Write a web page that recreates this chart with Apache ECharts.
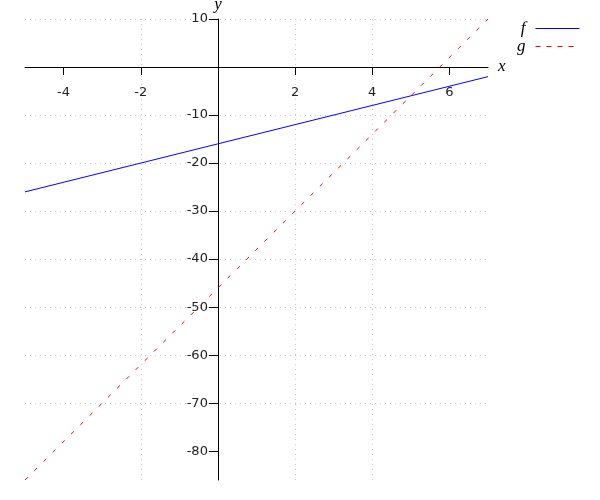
<!DOCTYPE html>
<html>
<head>
<meta charset="utf-8">
<script src="https://cdn.jsdelivr.net/npm/echarts@6/dist/echarts.min.js"></script>
<style>html,body{margin:0;padding:0;background:#fff}#c{width:600px;height:500px}</style>
</head>
<body>
<div id="c"></div>
<script>
const xValues = [-5, 0, 5, 7];
const fValues = [-26, -16, -6, -2];
const gValues = [-86, -46, -6, 10];
const xTicks = [-4, -2, 0, 2, 4, 6];
const xLabels = [-4, -2, 2, 4, 6];
const yTicks = [-80, -70, -60, -50, -40, -30, -20, -10, 0, 10];
const yLabels = [-80, -70, -60, -50, -40, -30, -20, -10, 10];

const chart = echarts.init(document.getElementById('c'), null, {renderer: 'canvas'});
const labelFont = {fontFamily: 'DejaVu Sans', fontSize: 13, color: '#222'};
const nameFont = {fontFamily: 'Liberation Serif', fontStyle: 'italic', fontSize: 17, color: '#000'};
chart.setOption({
  animation: false,
  grid: {left: 25, right: 112, top: 19, bottom: 20, containLabel: false, outerBoundsMode: 'none'},
  legend: {
    orient: 'vertical', right: 15, top: 15, align: 'right',
    itemWidth: 44, itemHeight: 10, itemGap: 1,
    itemStyle: {opacity: 0, borderWidth: 0},
    lineStyle: {width: 1},
    textStyle: Object.assign({padding: [0, 5, 0, 0]}, nameFont),
    data: [
      {name: 'f'},
      {name: 'g', lineStyle: {width: 1, type: [5, 6]}}
    ]
  },
  xAxis: {
    type: 'value', min: -5, max: 7,
    name: 'x', nameLocation: 'end', nameGap: 10, nameTextStyle: nameFont,
    axisLine: {onZero: false, lineStyle: {color: '#000', width: 1}},
    axisTick: {show: true, length: 8, customValues: xTicks, lineStyle: {color: '#000'}},
    axisLabel: Object.assign({margin: 19, customValues: xLabels}, labelFont),
    splitLine: {show: true, showMinLine: false, showMaxLine: false, lineStyle: {color: '#c8c8c8', type: [1, 4]}}
  },
  yAxis: {
    type: 'value', min: -86, max: 10,
    name: 'y', nameLocation: 'end', nameGap: 6, nameTextStyle: nameFont,
    axisLine: {onZero: false, lineStyle: {color: '#000', width: 1}},
    axisTick: {show: true, length: 9, customValues: yTicks, lineStyle: {color: '#000'}},
    axisLabel: Object.assign({margin: 10, customValues: yLabels}, labelFont),
    splitLine: {show: true, showMinLine: false, showMaxLine: true, lineStyle: {color: '#c8c8c8', type: [1, 4]}}
  },
  series: [
    {name: 'f', type: 'line', symbol: 'none', data: xValues.map((x, i) => [x, fValues[i]]),
     lineStyle: {color: '#0000ff', width: 1}, itemStyle: {color: '#0000ff'}},
    {name: 'g', type: 'line', symbol: 'none', data: xValues.map((x, i) => [x, gValues[i]]),
     lineStyle: {color: '#ff0000', width: 1, type: [4, 9]}, itemStyle: {color: '#ff0000'}}
  ]
});
// Move both axes so they cross at the origin (0, 0)
const origin = chart.convertToPixel({gridIndex: 0}, [0, 0]);
const rect = chart.getModel().getComponent('grid').coordinateSystem.getRect();
chart.setOption({
  xAxis: {offset: -(rect.y + rect.height - origin[1])},
  yAxis: {offset: -(origin[0] - rect.x)}
});
</script>
</body>
</html>
